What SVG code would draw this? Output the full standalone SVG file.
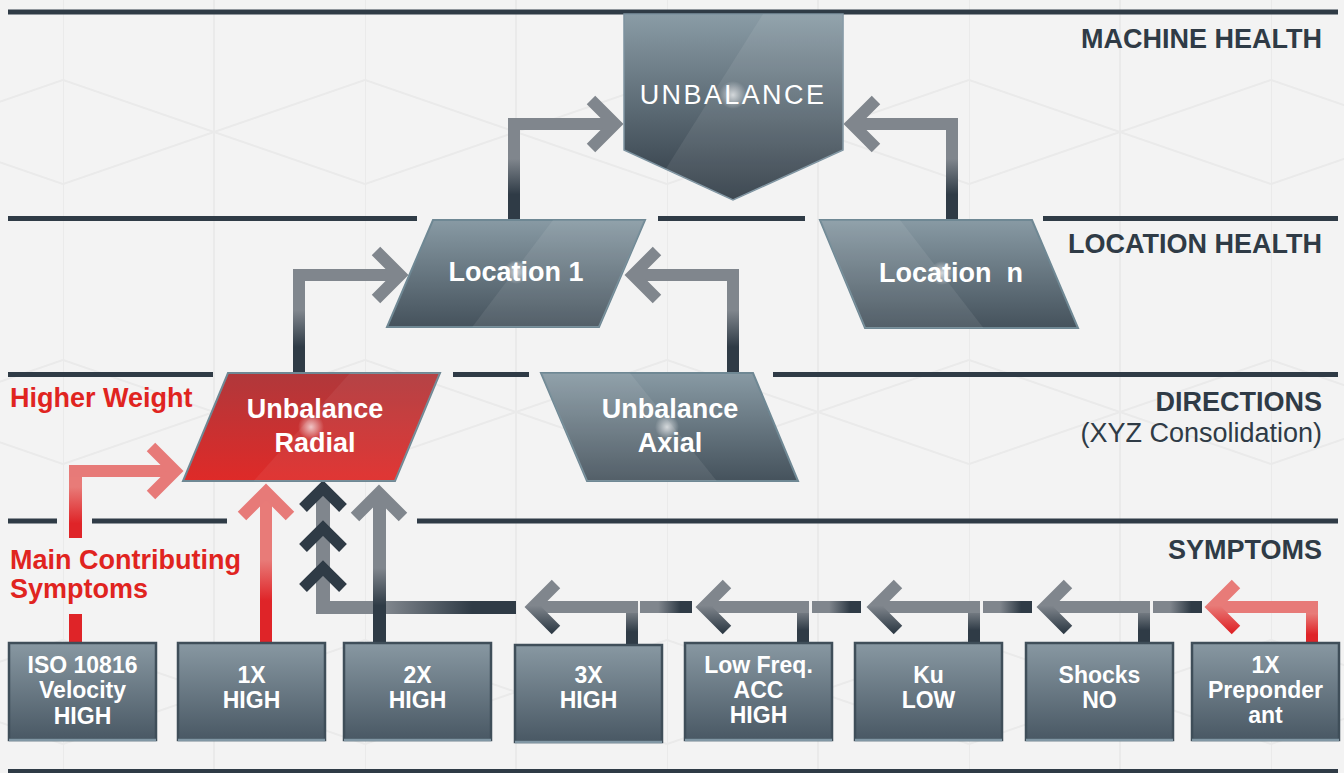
<svg xmlns="http://www.w3.org/2000/svg" width="1344" height="773" viewBox="0 0 1344 773">
<style>
text{font-family:"Liberation Sans",Arial,sans-serif}
.band{fill:#2f3b46}
.lbl{font-size:27px;font-weight:bold;fill:#2f3b46;text-anchor:end}
.lbl2{font-size:27px;fill:#2f3b46;text-anchor:end}
.red{font-size:27px;font-weight:bold;fill:#e0241f}
.nt{font-size:27px;font-weight:bold;fill:#fff;text-anchor:middle}
.bt{font-size:23px;font-weight:bold;fill:#fff;text-anchor:middle}
.node{fill:url(#gSlate);stroke:#6f8894;stroke-width:2}
.box{fill:url(#gBox);stroke:#3f4e59;stroke-width:2.5}
.boxb{stroke:#8197a4;stroke-width:2.5}
.hl{fill:#fff;opacity:0.08}
.cg{fill:none;stroke:#80868d;stroke-width:12;stroke-linejoin:miter}
.ch{fill:none;stroke:url(#gChev);stroke-width:12;stroke-linejoin:miter}
.chr{fill:none;stroke:url(#gChevR);stroke-width:12;stroke-linejoin:miter}
.cd{fill:none;stroke:#2f3b46;stroke-width:11;stroke-linejoin:miter}
.cp{fill:none;stroke:#e77a78;stroke-width:12;stroke-linejoin:miter}
.gray{fill:#80868d}
.pink{fill:#e77a78}
.redf{fill:#df2428}
.pat{fill:none;stroke:#eaeaea;stroke-width:2}
</style>
<defs>
<pattern id="bgp" patternUnits="userSpaceOnUse" x="63" y="-8" width="302" height="280">
<path class="pat" d="M0,0V280M151,0V280M0,88L151,140L0,192M302,88L151,140L302,192"/>
</pattern>
<linearGradient id="gSlate" x1="0" y1="0" x2="0" y2="1"><stop offset="0" stop-color="#889aa4"/><stop offset="1" stop-color="#45525c"/></linearGradient>
<linearGradient id="gTop" x1="0" y1="0" x2="0" y2="1"><stop offset="0" stop-color="#8a9ca6"/><stop offset="1" stop-color="#2f3a44"/></linearGradient>
<linearGradient id="gBox" x1="0" y1="0" x2="0" y2="1"><stop offset="0" stop-color="#8898a2"/><stop offset="1" stop-color="#495864"/></linearGradient>
<linearGradient id="gRed" x1="0" y1="0" x2="0" y2="1"><stop offset="0" stop-color="#b0383b"/><stop offset="1" stop-color="#df2a28"/></linearGradient>
<linearGradient id="gV" x1="0" y1="0" x2="0" y2="1"><stop offset="0" stop-color="#80868d"/><stop offset="0.4" stop-color="#80868d"/><stop offset="0.75" stop-color="#2f3b46"/><stop offset="1" stop-color="#2f3b46"/></linearGradient>
<linearGradient id="gVs" x1="0" y1="0" x2="0" y2="1"><stop offset="0" stop-color="#80868d"/><stop offset="0.2" stop-color="#80868d"/><stop offset="0.7" stop-color="#2f3b46"/><stop offset="1" stop-color="#2f3b46"/></linearGradient>
<linearGradient id="gV2" x1="0" y1="0" x2="0" y2="1"><stop offset="0" stop-color="#80868d"/><stop offset="0.5" stop-color="#80868d"/><stop offset="0.75" stop-color="#2f3b46"/><stop offset="1" stop-color="#2f3b46"/></linearGradient>
<linearGradient id="gH" x1="0" y1="0" x2="1" y2="0"><stop offset="0" stop-color="#80868d"/><stop offset="0.35" stop-color="#80868d"/><stop offset="0.78" stop-color="#2f3b46"/><stop offset="1" stop-color="#2f3b46"/></linearGradient>
<linearGradient id="gChev" gradientUnits="userSpaceOnUse" x1="0" y1="584" x2="0" y2="632"><stop offset="0" stop-color="#80868d"/><stop offset="0.45" stop-color="#80868d"/><stop offset="1" stop-color="#2f3b46"/></linearGradient>
<linearGradient id="gChevR" gradientUnits="userSpaceOnUse" x1="0" y1="584" x2="0" y2="632"><stop offset="0" stop-color="#e87b78"/><stop offset="0.45" stop-color="#e87b78"/><stop offset="1" stop-color="#df2428"/></linearGradient>
<linearGradient id="gP" x1="0" y1="0" x2="0" y2="1"><stop offset="0" stop-color="#e87b78"/><stop offset="0.3" stop-color="#e87b78"/><stop offset="0.8" stop-color="#df2428"/><stop offset="1" stop-color="#df2428"/></linearGradient>
<linearGradient id="gP2" x1="0" y1="0" x2="0" y2="1"><stop offset="0" stop-color="#e87b78"/><stop offset="0.45" stop-color="#e87b78"/><stop offset="0.72" stop-color="#df2428"/><stop offset="1" stop-color="#df2428"/></linearGradient>
<radialGradient id="glow"><stop offset="0" stop-color="#fff" stop-opacity="0.7"/><stop offset="1" stop-color="#fff" stop-opacity="0"/></radialGradient>
<clipPath id="cU"><polygon points="624,14 843,14 843,150 733,200 624,150"/></clipPath>
<clipPath id="cL1"><polygon points="433,220 645,220 599,327 387,327"/></clipPath>
<clipPath id="cLn"><polygon points="820,220 1032,220 1078,328 865,328"/></clipPath>
<clipPath id="cR"><polygon points="228,373 440,373 395,481 183,481"/></clipPath>
<clipPath id="cA"><polygon points="541,373 753,373 798,481 587,481"/></clipPath>
</defs>
<rect width="1344" height="773" fill="#f3f3f3"/>
<rect width="1344" height="773" fill="url(#bgp)"/>

<g id="bands">
<rect class="band" x="8" y="9.5" width="1330" height="5"/>
<rect class="band" x="8" y="216" width="409" height="5"/>
<rect class="band" x="658" y="216" width="147" height="5"/>
<rect class="band" x="1043" y="216" width="295" height="5"/>
<rect class="band" x="8" y="372" width="205" height="5"/>
<rect class="band" x="453" y="372" width="76" height="5"/>
<rect class="band" x="773" y="372" width="565" height="5"/>
<rect class="band" x="8" y="518.5" width="49" height="5"/>
<rect class="band" x="92" y="518.5" width="135" height="5"/>
<rect class="band" x="417" y="518.5" width="921" height="5"/>
<rect class="band" x="8" y="769" width="1330" height="4"/>
</g>

<g id="labels">
<text class="lbl" x="1322" y="48">MACHINE HEALTH</text>
<text class="lbl" x="1322" y="253">LOCATION HEALTH</text>
<text class="lbl" x="1322" y="411">DIRECTIONS</text>
<text class="lbl2" x="1322" y="442">(XYZ Consolidation)</text>
<text class="lbl" x="1322" y="559">SYMPTOMS</text>
<text class="red" x="10" y="407">Higher Weight</text>
<text class="red" x="10" y="569">Main Contributing</text>
<text class="red" x="10" y="598">Symptoms</text>
</g>

<g id="connectors">
<rect x="508" y="118" width="12" height="102" fill="url(#gV)"/>
<rect class="gray" x="508" y="118" width="108" height="12"/>
<polyline class="cg" points="591,100 615,124 591,148"/>
<rect x="946" y="118" width="12" height="102" fill="url(#gV)"/>
<rect class="gray" x="851" y="118" width="107" height="12"/>
<polyline class="cg" points="876,100 852,124 876,148"/>
<rect x="293" y="269" width="12" height="104" fill="url(#gV)"/>
<rect class="gray" x="293" y="269" width="108" height="12"/>
<polyline class="cg" points="376,251 400,275 376,299"/>
<rect x="727" y="269" width="12" height="104" fill="url(#gV)"/>
<rect class="gray" x="632" y="269" width="107" height="12"/>
<polyline class="cg" points="657,251 633,275 657,299"/>
<rect x="69" y="465" width="13" height="73" fill="url(#gP)"/>
<rect class="redf" x="69" y="614" width="13" height="29"/>
<rect class="pink" x="69" y="465" width="107" height="12"/>
<polyline class="cp" points="151,447 175,471 151,495"/>
<rect x="260" y="492" width="12" height="151" fill="url(#gP2)"/>
<polyline class="cp" points="242,516 266,492 290,516"/>
<rect class="gray" x="316" y="488" width="14" height="126"/>
<rect x="316" y="601" width="200" height="13" fill="url(#gH)"/>
<polyline class="cd" points="303,508 323,488 343,508"/>
<polyline class="cd" points="303,548 323,528 343,548"/>
<polyline class="cd" points="303,588 323,568 343,588"/>
<rect x="373" y="493" width="13" height="150" fill="url(#gV2)"/>
<polyline class="cg" points="355,517 379,493 403,517"/>
<rect x="626" y="601" width="12" height="44" fill="url(#gVs)"/>
<rect class="gray" x="533" y="601" width="105" height="12"/>
<polyline class="ch" points="556,584 533,607 556,630"/>
<rect x="640" y="601" width="52" height="12" fill="url(#gH)"/>
<rect x="797" y="601" width="12" height="42" fill="url(#gVs)"/>
<rect class="gray" x="704" y="601" width="105" height="12"/>
<polyline class="ch" points="727,584 704,607 727,630"/>
<rect x="812" y="601" width="49" height="12" fill="url(#gH)"/>
<rect x="968" y="601" width="12" height="42" fill="url(#gVs)"/>
<rect class="gray" x="875" y="601" width="105" height="12"/>
<polyline class="ch" points="898,584 875,607 898,630"/>
<rect x="983" y="601" width="49" height="12" fill="url(#gH)"/>
<rect x="1138" y="601" width="12" height="42" fill="url(#gVs)"/>
<rect class="gray" x="1045" y="601" width="105" height="12"/>
<polyline class="ch" points="1068,584 1045,607 1068,630"/>
<rect x="1153" y="601" width="49" height="12" fill="url(#gH)"/>
<rect x="1306" y="601" width="12" height="42" fill="url(#gP)"/>
<rect class="pink" x="1213" y="601" width="105" height="12"/>
<polyline class="chr" points="1236,584 1213,607 1236,630"/>
</g>

<g id="node-unbalance">
<polygon points="624,14 843,14 843,150 733,200 624,150" fill="url(#gTop)" stroke="#7d93a0" stroke-width="1.5"/>
<polygon class="hl" clip-path="url(#cU)" points="763,14 850,14 850,210 640,210"/>
<circle cx="733" cy="95" r="14" fill="url(#glow)"/>
<text x="733" y="104" font-size="27" fill="#fff" text-anchor="middle" letter-spacing="2.4">UNBALANCE</text>
</g>

<g id="node-location1">
<polygon class="node" points="433,220 645,220 599,327 387,327"/>
<polygon class="hl" clip-path="url(#cL1)" points="553,220 650,220 650,330 470,330"/>
<circle cx="516" cy="272" r="12" fill="url(#glow)"/>
<text class="nt" x="516" y="281">Location 1</text>
</g>

<g id="node-locationn">
<polygon class="node" points="820,220 1032,220 1078,328 865,328"/>
<polygon class="hl" clip-path="url(#cLn)" points="820,220 900,220 985,330 820,330"/>
<circle cx="942" cy="273" r="12" fill="url(#glow)"/>
<text class="nt" x="951" y="282" xml:space="preserve">Location  n</text>
</g>

<g id="node-radial">
<polygon points="228,373 440,373 395,481 183,481" fill="url(#gRed)" stroke="#6f8894" stroke-width="2"/>
<polygon clip-path="url(#cR)" points="350,373 445,373 445,485 250,485" fill="#fff" opacity="0.06"/>
<circle cx="311" cy="427" r="13" fill="url(#glow)"/>
<text class="nt" x="315" y="418">Unbalance</text>
<text class="nt" x="315" y="452">Radial</text>
</g>

<g id="node-axial">
<polygon class="node" points="541,373 753,373 798,481 587,481"/>
<polygon class="hl" clip-path="url(#cA)" points="541,373 630,373 720,485 541,485"/>
<circle cx="667" cy="427" r="12" fill="url(#glow)"/>
<text class="nt" x="670" y="418">Unbalance</text>
<text class="nt" x="670" y="452">Axial</text>
</g>

<g id="box-iso">
<rect class="box" x="9" y="643" width="147" height="97"/>
<line class="boxb" x1="9" y1="740" x2="156" y2="740"/>
<text class="bt" x="82.5" y="673">ISO 10816</text>
<text class="bt" x="82.5" y="698">Velocity</text>
<text class="bt" x="82.5" y="724">HIGH</text>
</g>
<g id="box-1x">
<rect class="box" x="178" y="643" width="147" height="97"/>
<line class="boxb" x1="178" y1="740" x2="325" y2="740"/>
<text class="bt" x="251.5" y="683">1X</text>
<text class="bt" x="251.5" y="708">HIGH</text>
</g>
<g id="box-2x">
<rect class="box" x="344" y="643" width="147" height="97"/>
<line class="boxb" x1="344" y1="740" x2="491" y2="740"/>
<text class="bt" x="417.5" y="683">2X</text>
<text class="bt" x="417.5" y="708">HIGH</text>
</g>
<g id="box-3x">
<rect class="box" x="515" y="645" width="147" height="97"/>
<line class="boxb" x1="515" y1="742" x2="662" y2="742"/>
<text class="bt" x="588.5" y="683">3X</text>
<text class="bt" x="588.5" y="708">HIGH</text>
</g>
<g id="box-lowfreq">
<rect class="box" x="685" y="643" width="147" height="97"/>
<line class="boxb" x1="685" y1="740" x2="832" y2="740"/>
<text class="bt" x="758.5" y="673">Low Freq.</text>
<text class="bt" x="758.5" y="698">ACC</text>
<text class="bt" x="758.5" y="723">HIGH</text>
</g>
<g id="box-ku">
<rect class="box" x="855" y="643" width="147" height="97"/>
<line class="boxb" x1="855" y1="740" x2="1002" y2="740"/>
<text class="bt" x="928.5" y="683">Ku</text>
<text class="bt" x="928.5" y="708">LOW</text>
</g>
<g id="box-shocks">
<rect class="box" x="1026" y="643" width="147" height="97"/>
<line class="boxb" x1="1026" y1="740" x2="1173" y2="740"/>
<text class="bt" x="1099.5" y="683">Shocks</text>
<text class="bt" x="1099.5" y="708">NO</text>
</g>
<g id="box-preponderant">
<rect class="box" x="1192" y="643" width="147" height="97"/>
<line class="boxb" x1="1192" y1="740" x2="1339" y2="740"/>
<text class="bt" x="1265.5" y="673">1X</text>
<text class="bt" x="1265.5" y="698">Preponder</text>
<text class="bt" x="1265.5" y="723">ant</text>
</g>
</svg>
